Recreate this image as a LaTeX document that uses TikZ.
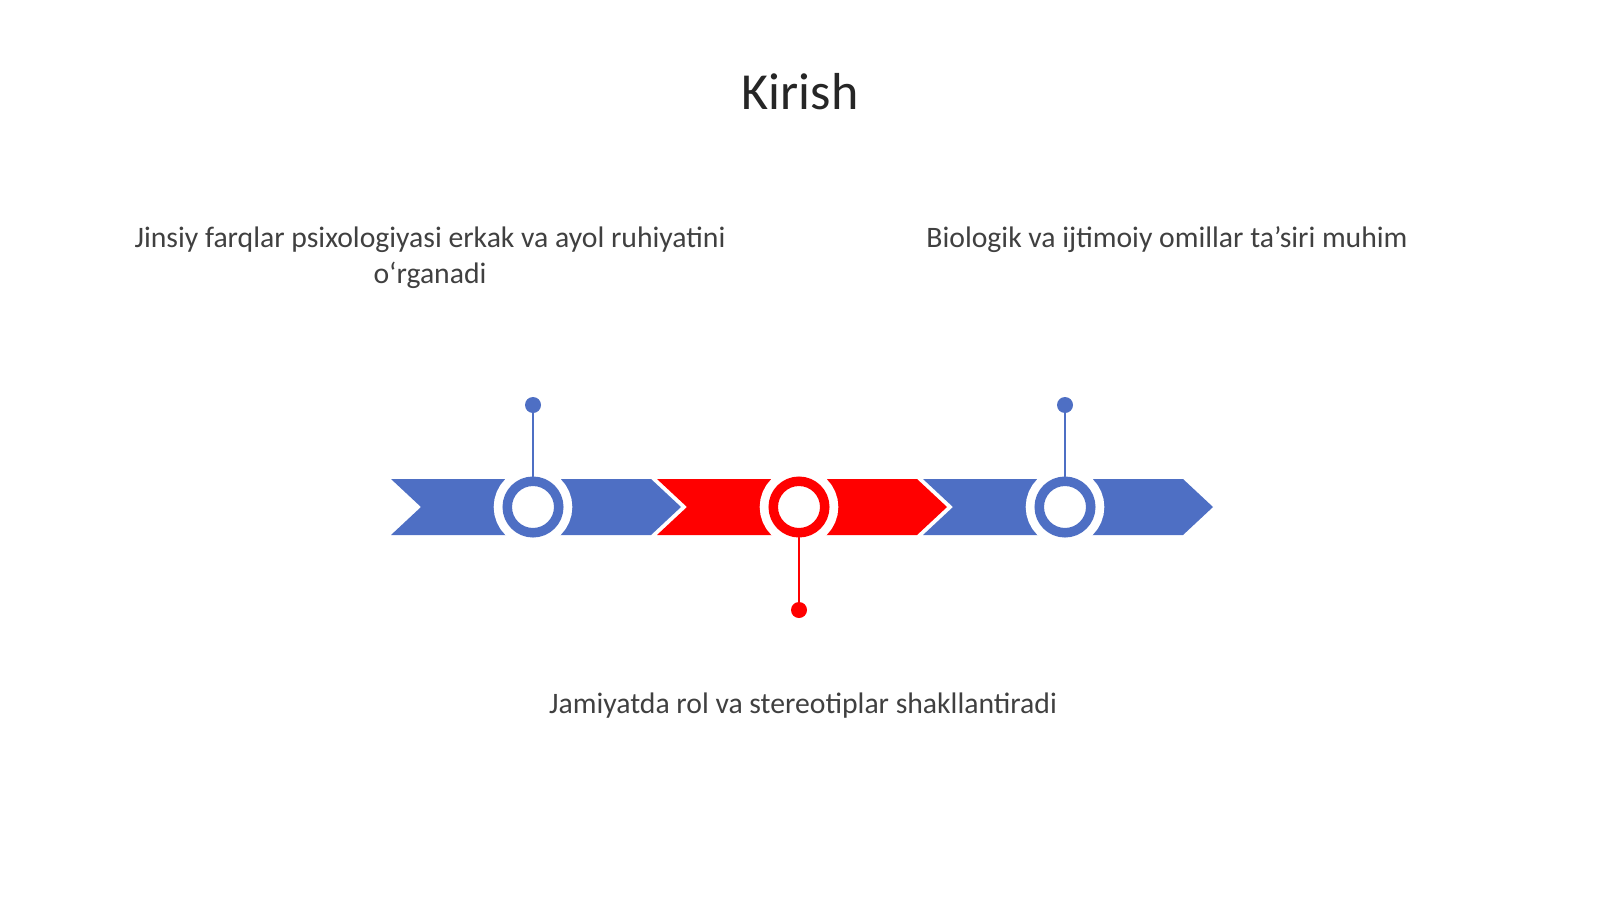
\documentclass[tikz,border=0pt]{standalone}
\usepackage{fontspec}
\setmainfont{Carlito}
\usepackage{tikz}
\definecolor{lineblue}{HTML}{4E6FC4}
\definecolor{linered}{HTML}{FF0000}

\begin{document}
\begin{tikzpicture}[x=1pt, y=-1pt, line cap=round,
    chevron/.style={fill=#1},
    ring/.style={circle, draw=#1, fill=white, line width=9.5pt, minimum size=51.5pt, inner sep=0pt,
        preaction={draw=white, line width=27pt}},
    pindot/.style={circle, fill=#1, minimum size=16pt, inner sep=0pt},
    pinline/.style={draw=#1, line width=2pt},
    caption/.style={font=\fontsize{29.7}{36}\selectfont, text=black!75, align=center, anchor=base},
    heading/.style={font=\fontsize{52}{60}\selectfont, text=black!85, anchor=base}]
            \useasboundingbox (0, 0) rectangle (1600, 899);
            % title
            \node[heading] (title) at (800, 109) {Kirish};
            % chevrons of the time line
            \foreach \x/\c in {391/lineblue, 657/linered, 923/lineblue}
                \fill[chevron=\c] (\x, 479) -- ++(260, 0) -- ++(30, 28) -- ++(-30, 28) -- ++(-260, 0) -- ++(30, -28) -- cycle;
            % rings on the time line
            \node[ring=lineblue] (ring1) at (533, 507) {};
            \node[ring=linered] (ring2) at (799, 507) {};
            \node[ring=lineblue] (ring3) at (1065, 507) {};
            % pins
            \node[pindot=lineblue] (dot1) at (533, 405) {};
            \node[pindot=linered] (dot2) at (799, 610) {};
            \node[pindot=lineblue] (dot3) at (1065, 405) {};
            \draw[pinline=lineblue] (dot1) -- (ring1);
            \draw[pinline=linered] (dot2) -- (ring2);
            \draw[pinline=lineblue] (dot3) -- (ring3);
            % captions (base of a two-line node is its last line)
            \node[caption] (text1) at (430, 283) {Jinsiy farqlar psixologiyasi erkak va ayol ruhiyatini\\o‘rganadi};
            \node[caption] (text2) at (1167, 247) {Biologik va ijtimoiy omillar ta’siri muhim};
            \node[caption] (text3) at (803, 713) {Jamiyatda rol va stereotiplar shakllantiradi};
\end{tikzpicture}
\end{document}
